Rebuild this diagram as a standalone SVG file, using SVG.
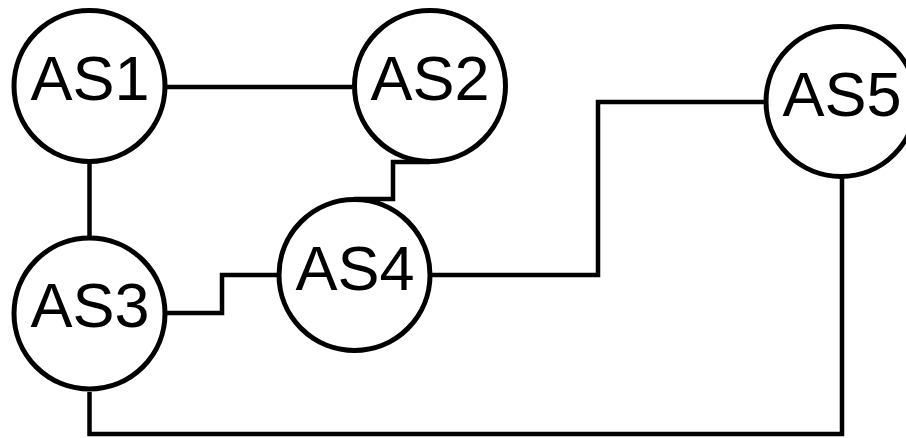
<svg xmlns="http://www.w3.org/2000/svg" width="906" height="438" viewBox="0 0 906 438">
<style>
.node circle{fill:#fff;stroke:#000;stroke-width:5}
.node text{font-family:"Liberation Sans",Arial,sans-serif;font-size:63px;fill:#000;text-anchor:middle}
#connectors path{fill:none;stroke:#000;stroke-width:4.5;stroke-linejoin:miter}
</style>
<rect width="906" height="438" fill="#fff"/>
<g id="connectors">
<path d="M167,87 H352"/>
<path d="M89.5,163 V236"/>
<path d="M430,162 H393 V199 H354"/>
<path d="M167,313 H222 V275 H278"/>
<path d="M432,275 H598 V102 H765"/>
<path d="M842,178 V434 H89.5 V392"/>
</g>
<g id="AS1" class="node"><circle cx="89.5" cy="86" r="75.5"/><text x="90" y="100">AS1</text></g>
<g id="AS2" class="node"><circle cx="430" cy="86" r="75.5"/><text x="430" y="100">AS2</text></g>
<g id="AS3" class="node"><circle cx="89.5" cy="313.5" r="75.5"/><text x="90" y="327">AS3</text></g>
<g id="AS4" class="node"><circle cx="354.5" cy="275" r="75.5"/><text x="355" y="290">AS4</text></g>
<g id="AS5" class="node"><circle cx="841" cy="101.5" r="75"/><text x="842" y="116">AS5</text></g>
</svg>
